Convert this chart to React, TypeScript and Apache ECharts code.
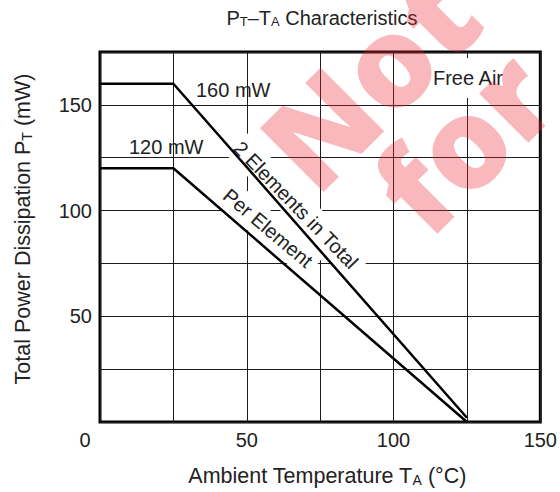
import { useEffect, useRef } from "react";
import * as echarts from "echarts";

// Derating curves: ambient temperature (°C) vs. allowed dissipation (mW)
const temperature = [0, 25, 125];
const totalDissipation = [160, 160, 2];
const perElementDissipation = [120, 120, 0];

// Tick values that carry a printed label
const xLabelValues = [0, 50, 100, 150];
const yLabelValues = [50, 100, 150];

const FONT = "'Liberation Sans', Arial, sans-serif";
const INK = "#222";
const STAMP = "rgba(238,40,50,0.33)";
const small = { fontSize: 13, fontFamily: FONT, fill: INK, color: INK, verticalAlign: "bottom" };
const smallName = { fontSize: 14, fontFamily: FONT, fill: INK, color: INK, verticalAlign: "bottom" };

export default function App() {
  const ref = useRef<HTMLDivElement>(null);

  useEffect(() => {
    const chart = echarts.init(ref.current!, null, { renderer: "svg" });
    const pairs = (ys: number[]) => temperature.map((t, i) => [t, ys[i]]);

    const label = (
      text: string,
      x: number,
      y: number,
      opts: Record<string, unknown> = {},
      style: Record<string, unknown> = {}
    ) => ({
      type: "text",
      x,
      y,
      z: 1,
      silent: true,
      ...opts,
      style: {
        text,
        fontSize: 20,
        fontFamily: FONT,
        fill: INK,
        align: "center",
        textAlign: "center",
        verticalAlign: "middle",
        textVerticalAlign: "middle",
        ...style,
      },
    });

    const stamp = (text: string, x: number, y: number) =>
      label(
        text,
        x,
        y,
        { rotation: Math.PI / 4, z: 20 },
        { fontSize: 126, fontWeight: 900, fontFamily: "'Noto Sans', sans-serif", fill: STAMP }
      );

    chart.setOption({
      animation: false,
      backgroundColor: "#fff",
      textStyle: { fontFamily: FONT },
      grid: {
        left: 100,
        right: 18,
        top: 52,
        bottom: 70,
        show: true,
        borderColor: "#000",
        borderWidth: 3,
        backgroundColor: "transparent",
      },
      xAxis: {
        type: "value",
        min: 0,
        max: 150,
        interval: 25,
        axisLine: { show: false },
        axisTick: { show: false },
        splitLine: { show: true, lineStyle: { color: "#1c1c1c", width: 1 } },
        axisLabel: {
          margin: 8,
          fontSize: 20,
          color: INK,
          fontFamily: FONT,
          showMinLabel: true,
          showMaxLabel: true,
          formatter: (v: number) =>
            xLabelValues.includes(v) ? (v === 0 ? `{o|${v}}` : `${v}`) : "",
          rich: { o: { padding: [0, 30, 0, 0], fontSize: 20, color: INK, fontFamily: FONT } },
        },
        name: "Ambient Temperature T{s|A} (°C)",
        nameLocation: "middle",
        nameGap: 43,
        nameTextStyle: {
          fontSize: 21.5,
          color: INK,
          fontFamily: FONT,
          padding: [0, 0, 0, 14],
          rich: { s: smallName },
        },
      },
      yAxis: {
        type: "value",
        min: 0,
        max: 175,
        interval: 25,
        axisLine: { show: false },
        axisTick: { show: false },
        splitLine: { show: true, lineStyle: { color: "#1c1c1c", width: 1 } },
        axisLabel: {
          margin: 8,
          fontSize: 20,
          color: INK,
          fontFamily: FONT,
          formatter: (v: number) => (yLabelValues.includes(v) ? `${v}` : ""),
        },
        name: "Total Power Dissipation P{s|T} (mW)",
        nameLocation: "middle",
        nameGap: 66,
        nameTextStyle: {
          fontSize: 21.5,
          color: INK,
          fontFamily: FONT,
          padding: [0, 0, 0, 16],
          rich: { s: smallName },
        },
      },
      series: [
        {
          name: "2 Elements in Total",
          type: "line",
          data: pairs(totalDissipation),
          symbol: "none",
          silent: true,
          z: 5,
          lineStyle: { color: "#000", width: 2.5 },
        },
        {
          name: "Per Element",
          type: "line",
          data: pairs(perElementDissipation),
          symbol: "none",
          silent: true,
          z: 5,
          lineStyle: { color: "#000", width: 2.5 },
        },
      ],
      graphic: [
        label("P{s|T}–T{s|A} Characteristics", 322, 18, {}, { rich: { s: small } }),
        label("160 mW", 196, 90, {}, { align: "left", textAlign: "left" }),
        label("120 mW", 129, 147, {}, { align: "left", textAlign: "left" }),
        label("Free Air", 468, 78, {}, { backgroundColor: "#fff", padding: [10, 14] }),
        label(
          "2 Elements in Total",
          296,
          205,
          { rotation: -0.8 },
          { backgroundColor: "#fff", padding: [5, 6] }
        ),
        label(
          "Per Element",
          268,
          228,
          { rotation: -0.7 },
          { backgroundColor: "#fff", padding: [5, 6] }
        ),
        stamp("Not", 368, 78),
        stamp("for", 462, 140),
      ],
    });

    return () => chart.dispose();
  }, []);

  return (
    <div
      ref={ref}
      style={{ position: "fixed", left: 0, top: 0, width: 560, height: 492 }}
    />
  );
}
